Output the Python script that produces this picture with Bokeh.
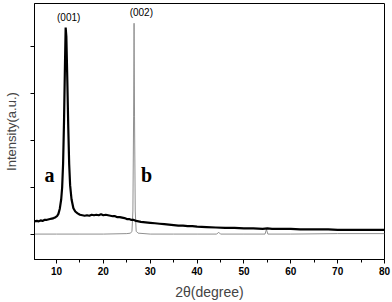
from bokeh.plotting import figure
from bokeh.models import FixedTicker, Range1d
from bokeh.core.properties import value
from bokeh.embed import file_html
from bokeh.resources import INLINE

# curve a (black, broad (001) peak)
a_x = [5.3, 5.8, 6.2, 6.6, 7.0, 7.4, 7.8, 8.2, 8.6, 9.0, 9.4, 9.8, 10.1, 10.4, 10.7, 11.0,
       11.2, 11.4, 11.6, 11.8, 11.95, 12.1, 12.3, 12.5, 12.7, 12.9, 13.2, 13.6, 14.0, 14.5,
       15.0, 15.5, 16.0, 16.5, 17.0, 17.5, 18.0, 18.5, 19.0, 19.5, 20.0, 20.5, 21.0, 21.5,
       22.0, 22.5, 23.0, 23.5, 24.0, 24.5, 25.0, 25.5, 26.0, 26.5, 27.0, 28.0, 29.0, 30.0,
       31.0, 32.0, 33.0, 34.0, 35.0, 36.0, 37.0, 38.0, 39.0, 40.0, 42.0, 44.0, 46.0, 48.0,
       50.0, 52.0, 54.0, 55.0, 56.0, 58.0, 60.0, 62.0, 64.0, 66.0, 68.0, 70.0, 72.0, 74.0,
       76.0, 78.0, 80.0]
a_y = [0.28, 0.29, 0.28, 0.30, 0.29, 0.31, 0.31, 0.32, 0.33, 0.34, 0.35, 0.37, 0.39, 0.44, 0.55, 0.75,
       1.0, 1.5, 2.4, 3.6, 4.4, 4.2, 3.3, 2.3, 1.5, 1.05, 0.75, 0.56, 0.49, 0.45,
       0.42, 0.41, 0.40, 0.41, 0.40, 0.42, 0.41, 0.42, 0.41, 0.43, 0.41, 0.42, 0.41, 0.40,
       0.39, 0.39, 0.37, 0.37, 0.36, 0.35, 0.33, 0.33, 0.31, 0.31, 0.29, 0.27, 0.26, 0.25,
       0.24, 0.23, 0.22, 0.21, 0.20, 0.19, 0.19, 0.18, 0.18, 0.17, 0.16, 0.15, 0.14, 0.14,
       0.13, 0.13, 0.12, 0.13, 0.12, 0.12, 0.12, 0.11, 0.11, 0.11, 0.11, 0.10, 0.10, 0.10,
       0.10, 0.10, 0.10]

# curve b (grey, sharp (002) peak)
b_x = [5.3, 10.0, 15.0, 20.0, 25.0, 25.8, 26.1, 26.3, 26.45, 26.55, 26.65, 26.8, 27.0, 27.4,
       30.0, 35.0, 40.0, 44.2, 44.6, 45.0, 50.0, 54.5, 54.8, 55.1, 60.0, 70.0, 80.0]
b_y = [0.01, 0.01, 0.01, 0.01, 0.02, 0.03, 0.07, 0.5, 2.5, 4.49, 2.5, 0.5, 0.07, 0.03,
       0.01, 0.01, 0.01, 0.01, 0.05, 0.01, 0.01, 0.01, 0.11, 0.01, 0.01, 0.02, 0.02]

x_ticks = [10, 20, 30, 40, 50, 60, 70, 80]
x_minor = [5, 15, 25, 35, 45, 55, 65, 75]
y_ticks = [0, 1, 2, 3, 4]

peak_labels = ["(001)", "(002)"]
peak_lx = [12.6, 28.1]
peak_ly = [4.62, 4.72]
curve_labels = ["a", "b"]
curve_lx = [8.5, 29.2]
curve_ly = [1.26, 1.26]

p = figure(frame_width=350, frame_height=256, min_border_left=33, min_border_right=9,
           min_border_top=3, min_border_bottom=43, output_backend="svg",
           toolbar_location=None, x_range=Range1d(5.3, 80.0), y_range=Range1d(-0.53, 4.91))
p.grid.visible = False
p.outline_line_color = "black"
p.outline_line_width = 1
p.background_fill_color = "white"

p.line(b_x, b_y, line_color="#909090", line_width=1)
p.line(a_x, a_y, line_color="black", line_width=2.2)

p.text(peak_lx, peak_ly, text=peak_labels, text_font=value("Liberation Sans"),
       text_font_size="10px", text_align="center", text_baseline="middle", text_color="black")
p.text(curve_lx, curve_ly, text=curve_labels, text_font=value("Liberation Serif"),
       text_font_size="20px", text_font_style="bold", text_align="center",
       text_baseline="middle", text_color="black")

xa = p.xaxis[0]
xa.ticker = FixedTicker(ticks=x_ticks, minor_ticks=x_minor)
xa.major_tick_out = 4
xa.major_tick_in = 0
xa.minor_tick_out = 3
xa.minor_tick_in = 0
xa.major_label_standoff = 3
xa.major_label_text_font = "Liberation Sans"
xa.major_label_text_font_size = "10px"
xa.major_label_text_font_style = "bold"
xa.major_label_text_color = "black"
xa.axis_label = "2θ(degree)"
xa.axis_label_text_font = "Liberation Sans"
xa.axis_label_text_font_size = "14px"
xa.axis_label_text_font_style = "normal"
xa.axis_label_standoff = 6
xa.axis_line_color = "black"

ya = p.yaxis[0]
ya.ticker = FixedTicker(ticks=y_ticks, minor_ticks=[])
ya.major_tick_out = 4
ya.major_tick_in = 0
ya.minor_tick_out = 0
ya.minor_tick_in = 0
ya.major_label_overrides = {t: "" for t in y_ticks}
ya.major_label_standoff = 0
ya.axis_label = "Intensity(a.u.)"
ya.axis_label_text_font = "Liberation Sans"
ya.axis_label_text_font_size = "13px"
ya.axis_label_text_font_style = "normal"
ya.axis_label_standoff = 12
ya.axis_line_color = "black"

open("out.html", "w").write(file_html(p, INLINE))
